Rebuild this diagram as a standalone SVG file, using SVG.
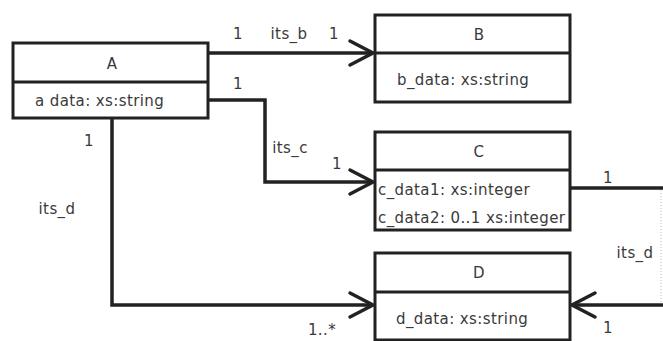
<svg xmlns="http://www.w3.org/2000/svg" width="663" height="341" viewBox="0 0 663 341">
<defs>
<style>
.box{fill:#fff;stroke:#222;stroke-width:3}
.div{stroke:#222;stroke-width:3}
.ln{fill:none;stroke:#222;stroke-width:3.5}
.arr{fill:none;stroke:#222;stroke-width:3.5;stroke-linecap:round}
text{font-family:"DejaVu Sans","Liberation Sans",sans-serif;font-size:15px;letter-spacing:0.4px;fill:#3a3a3a}
.c{text-anchor:middle}
</style>
</defs>
<rect width="663" height="341" fill="#fff"/>
<g id="connectors">
<path class="ln" d="M208,53 H373"/>
<path class="arr" d="M350,41 L373,53 L350,65"/>
<path class="ln" d="M208,100 H265 V182 H373"/>
<path class="arr" d="M350,170 L373,182 L350,194"/>
<path class="ln" d="M112,118 V305 H373"/>
<path class="arr" d="M350,293 L373,305 L350,317"/>
<path class="ln" d="M570,188 H663"/>
<path class="ln" d="M663,305 H572"/>
<path class="arr" d="M595,293 L572,305 L595,317"/>
<path d="M661,190 V303" stroke="#bbb" stroke-width="1" stroke-dasharray="1 2" fill="none"/>
<text x="238" y="39" class="c">1</text>
<text x="289" y="39" class="c">its_b</text>
<text x="334" y="39" class="c">1</text>
<text x="238" y="89" class="c">1</text>
<text x="290" y="153" class="c">its_c</text>
<text x="337" y="169" class="c">1</text>
<text x="89" y="146" class="c">1</text>
<text x="57" y="214" class="c">its_d</text>
<text x="322" y="335" class="c">1..*</text>
<text x="608" y="183" class="c">1</text>
<text x="635" y="258" class="c">its_d</text>
<text x="608" y="333" class="c">1</text>
</g>
<g id="A">
<rect class="box" x="13" y="43" width="195" height="75"/>
<line class="div" x1="13" y1="82" x2="208" y2="82"/>
<text x="112" y="69" class="c">A</text>
<text x="35" y="106">a  data: xs:string</text>
</g>
<g id="B">
<rect class="box" x="375" y="15" width="195" height="87"/>
<line class="div" x1="375" y1="53" x2="570" y2="53"/>
<text x="479" y="40" class="c">B</text>
<text x="397" y="85">b_data: xs:string</text>
</g>
<g id="C">
<rect class="box" x="375" y="132" width="195" height="98"/>
<line class="div" x1="375" y1="170" x2="570" y2="170"/>
<text x="479" y="157" class="c">C</text>
<text x="378" y="195">c_data1: xs:integer</text>
<text x="378" y="223">c_data2: 0..1 xs:integer</text>
</g>
<g id="D">
<rect class="box" x="375" y="253" width="195" height="87"/>
<line class="div" x1="375" y1="292" x2="570" y2="292"/>
<text x="479" y="278" class="c">D</text>
<text x="396" y="324">d_data: xs:string</text>
</g>
</svg>
